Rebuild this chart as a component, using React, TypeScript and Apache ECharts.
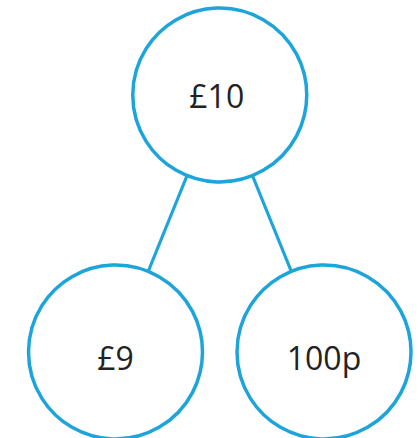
import React, { useEffect, useRef } from "react";
import * as echarts from "echarts";

// Part-whole model: one whole and two parts
const nodeLabels = ["£10", "£9", "100p"];
const nodeColumn = [0, -1, 1]; // horizontal position (whole centered, parts either side)
const nodeLevel = [0, 1, 1]; // 0 = whole, 1 = parts
const links: [number, number][] = [
  [0, 1],
  [0, 2],
];

const BLUE = "#1DA4DB";
const TEXT = "#222222";

export default function App() {
  const ref = useRef<HTMLDivElement>(null);
  useEffect(() => {
    document.body.style.margin = "0";
    const chart = echarts.init(ref.current!, null, { renderer: "svg" });
    chart.setOption({
      animation: false,
      backgroundColor: "#ffffff",
      grid: { left: 115.5, right: 94, top: 95, bottom: 86 },
      xAxis: { type: "value", min: -1, max: 1, show: false },
      yAxis: { type: "value", min: 0, max: 1, inverse: true, show: false },
      series: [
        {
          type: "graph",
          coordinateSystem: "cartesian2d",
          symbol: "circle",
          symbolSize: 174,
          itemStyle: { color: "#ffffff", borderColor: BLUE, borderWidth: 3.5 },
          lineStyle: { color: BLUE, width: 3.2, opacity: 1 },
          label: {
            show: true,
            position: "inside",
            color: TEXT,
            fontFamily: "Open Sans",
            fontWeight: 500,
            fontSize: 32,
            formatter: (p: any) => p.name,
          },
          data: nodeLabels.map((name, i) => ({
            name,
            value: [nodeColumn[i], nodeLevel[i]],
            label: nodeLevel[i] > 0 ? { offset: [0, 5] } : { offset: [-3, 0] },
          })),
          links: links.map(([s, t]) => ({ source: s, target: t })),
        },
      ],
    });
    return () => chart.dispose();
  }, []);
  return <div ref={ref} style={{ width: 418, height: 438 }} />;
}
